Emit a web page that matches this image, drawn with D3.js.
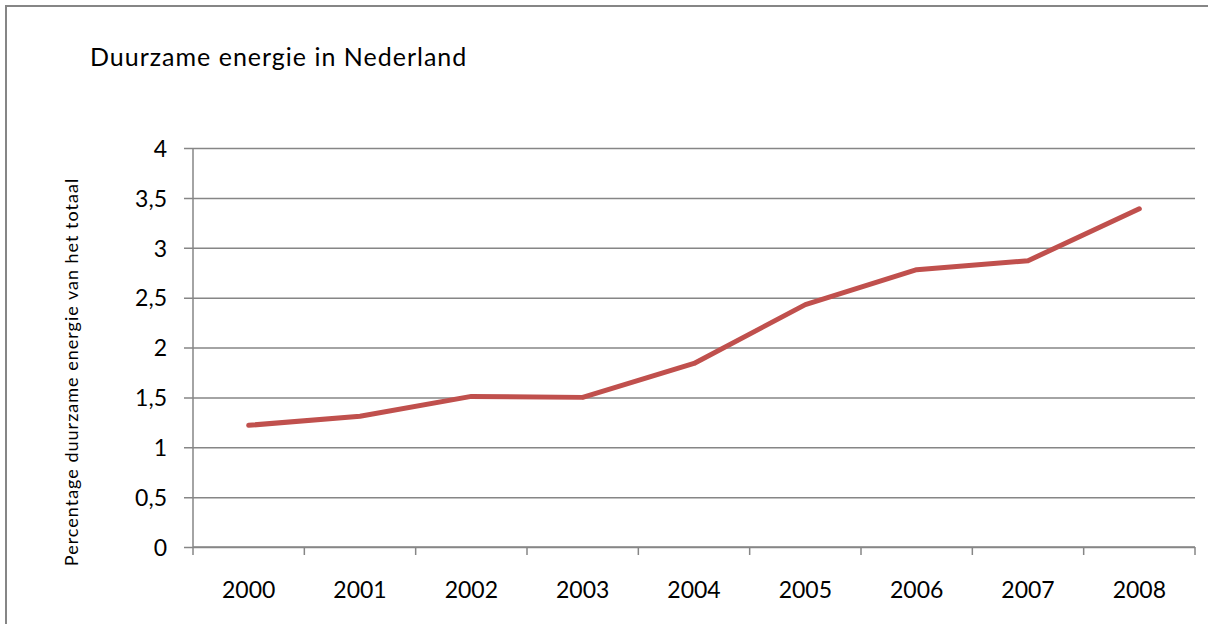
<!DOCTYPE html>
<html>
<head>
<meta charset="utf-8">
<script src="https://cdn.jsdelivr.net/npm/d3@7"></script>
<style>
  html, body { margin: 0; padding: 0; background: #fff; overflow: hidden; }
  svg { display: block; }
  text { font-family: Lato, "Open Sans", sans-serif; fill: #000; }
</style>
</head>
<body>
<svg id="chart" width="1208" height="624"></svg>
<script>
const years = ["2000", "2001", "2002", "2003", "2004", "2005", "2006", "2007", "2008"];
const values = [1.22, 1.31, 1.51, 1.50, 1.84, 2.43, 2.78, 2.87, 3.39];
const yTicks = [0, 0.5, 1, 1.5, 2, 2.5, 3, 3.5, 4];
const titleText = "Duurzame energie in Nederland";
const yAxisTitle = "Percentage duurzame energie van het totaal";

const svg = d3.select("#chart");
const W = 1208, H = 624;
const plot = { left: 193, right: 1195, top: 148, bottom: 547 };
const gridColor = "#868686";
const lineColor = "#C0504D";

// outer chart border (only top and left visible)
svg.append("line").attr("x1", 5).attr("x2", W).attr("y1", 6).attr("y2", 6)
  .attr("stroke", gridColor).attr("stroke-width", 2);
svg.append("line").attr("x1", 6).attr("x2", 6).attr("y1", 5).attr("y2", H)
  .attr("stroke", gridColor).attr("stroke-width", 2);

const x = d3.scaleBand().domain(years).range([plot.left, plot.right]).padding(0);
const y = d3.scaleLinear().domain([0, 4]).range([plot.bottom, plot.top]);

// gridlines + y axis labels
const yAxis = d3.axisLeft(y).tickValues(yTicks)
  .tickSize(-(plot.right - plot.left))
  .tickFormat(d => String(d).replace(".", ","));
const gy = svg.append("g").attr("transform", `translate(${plot.left},0)`).call(yAxis);
gy.select(".domain").remove();
gy.selectAll(".tick line")
  .attr("x1", -9)
  .attr("stroke", gridColor).attr("stroke-width", 1.5);
gy.selectAll(".tick text")
  .attr("x", -26).attr("dy", "0.36em")
  .style("font-size", "23px").style("font-family", "Lato, sans-serif")
  .attr("fill", "#000");

// y axis line
svg.append("line")
  .attr("x1", plot.left).attr("x2", plot.left)
  .attr("y1", plot.top).attr("y2", plot.bottom)
  .attr("stroke", gridColor).attr("stroke-width", 1.5);

// x axis
const boundaries = years.map(d => x(d)).concat([x(years[years.length - 1]) + x.bandwidth()]);
svg.append("line")
  .attr("x1", plot.left).attr("x2", plot.right)
  .attr("y1", plot.bottom).attr("y2", plot.bottom)
  .attr("stroke", gridColor).attr("stroke-width", 1.5);
svg.append("g").selectAll("line").data(boundaries).join("line")
  .attr("x1", d => d).attr("x2", d => d)
  .attr("y1", plot.bottom).attr("y2", plot.bottom + 8)
  .attr("stroke", gridColor).attr("stroke-width", 1.5);
svg.append("g").selectAll("text").data(years).join("text")
  .attr("x", d => x(d) + x.bandwidth() / 2)
  .attr("y", 598)
  .attr("text-anchor", "middle")
  .style("font-size", "23px")
  .text(d => d);

// line
const line = d3.line()
  .x((d, i) => x(years[i]) + x.bandwidth() / 2)
  .y(d => y(d));
svg.append("path")
  .datum(values)
  .attr("d", line)
  .attr("fill", "none")
  .attr("stroke", lineColor)
  .attr("stroke-width", 5)
  .attr("stroke-linejoin", "round")
  .attr("stroke-linecap", "round");

// title
svg.append("text")
  .attr("x", 90).attr("y", 66)
  .style("font-size", "25px")
  .style("letter-spacing", "1px")
  .text(titleText);

// y axis title
svg.append("text")
  .attr("transform", "translate(78,372) rotate(-90)")
  .attr("text-anchor", "middle")
  .style("font-size", "18px")
  .style("letter-spacing", "1px")
  .text(yAxisTitle);
</script>
</body>
</html>
